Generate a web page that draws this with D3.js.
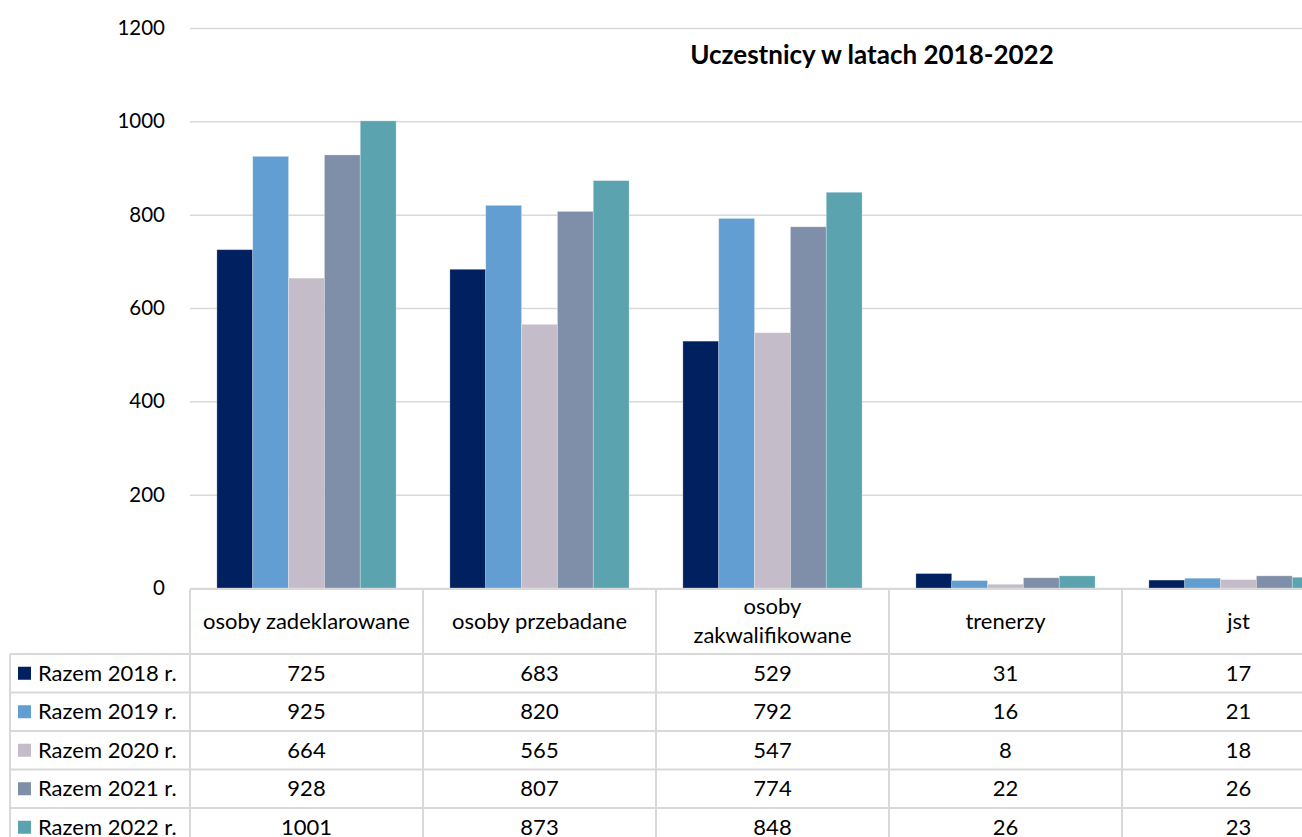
<!DOCTYPE html>
<html>
<head>
<meta charset="utf-8">
<script src="https://cdn.jsdelivr.net/npm/d3@7"></script>
<style>
html,body{margin:0;padding:0;background:#fff;overflow:hidden;}
svg{display:block;font-family:Lato, "Open Sans", sans-serif;}
</style>
</head>
<body>
<svg id="chart" width="1302" height="837"></svg>
<script>
const categories = ["osoby zadeklarowane", "osoby przebadane", "osoby zakwalifikowane", "trenerzy", "jst"];
const categoryLines = [["osoby zadeklarowane"], ["osoby przebadane"], ["osoby", "zakwalifikowane"], ["trenerzy"], ["jst"]];
const seriesNames = ["Razem 2018 r.", "Razem 2019 r.", "Razem 2020 r.", "Razem 2021 r.", "Razem 2022 r."];
const values2018 = [725, 683, 529, 31, 17];
const values2019 = [925, 820, 792, 16, 21];
const values2020 = [664, 565, 547, 8, 18];
const values2021 = [928, 807, 774, 22, 26];
const values2022 = [1001, 873, 848, 26, 23];
const seriesValues = [values2018, values2019, values2020, values2021, values2022];
const colors = ["#01205F", "#629ED2", "#C4BCC8", "#7F8FA9", "#5BA3AE"];
const yTicks = [0, 200, 400, 600, 800, 1000, 1200];
const title = "Uczestnicy w latach 2018-2022";

const svg = d3.select("#chart");
const plotLeft = 190, colW = 233;
const y0 = 588, yTop = 28;
const W = 1302;
const tableFont = 22;

const x0 = d3.scaleBand().domain(categories).range([plotLeft, plotLeft + colW * categories.length]).paddingInner(0).paddingOuter(0);
const x1 = d3.scaleBand().domain(seriesNames).range([0, x0.bandwidth()]).paddingInner(0).paddingOuter(0.75);
const y = d3.scaleLinear().domain([0, 1200]).range([y0, yTop]);

const gridColor = "#d9d9d9";

// gridlines
const yAxis = d3.axisLeft(y).tickValues(yTicks).tickSize(-(W - plotLeft)).tickFormat(d3.format("d"));
const gy = svg.append("g").attr("transform", `translate(${plotLeft},0)`).call(yAxis);
gy.select(".domain").remove();
gy.selectAll(".tick line").attr("stroke", gridColor).attr("stroke-width", 1.5);
gy.selectAll(".tick text").attr("x", -25).attr("font-size", 20.5).attr("fill", "#000").attr("font-family", "Lato, 'Open Sans', sans-serif");

// bars
const data = [];
seriesNames.forEach((s, si) => categories.forEach((c, ci) => data.push({s, c, v: seriesValues[si][ci], si})));
svg.append("g").selectAll("rect").data(data).join("rect")
  .attr("x", d => x0(d.c) + x1(d.s))
  .attr("width", x1.bandwidth())
  .attr("y", d => y(d.v))
  .attr("height", d => y0 - y(d.v))
  .attr("fill", d => colors[d.si])
  .attr("stroke", "#ffffff").attr("stroke-opacity", 0.35).attr("stroke-width", 0.8);

// title
svg.append("text").attr("x", 872).attr("y", 64).attr("text-anchor", "middle")
  .attr("font-size", 26).attr("font-weight", "bold").attr("fill", "#000").text(title);

// data table
const headerBottom = 654, rowH = 38.5;
const tableLeft = 10;
const t = svg.append("g");
t.append("line").attr("x1", plotLeft).attr("x2", W).attr("y1", y0 + 1).attr("y2", y0 + 1).attr("stroke", gridColor).attr("stroke-width", 2);
const colEdges = categories.map(c => x0(c)).concat([x0.range()[1]]);
colEdges.forEach(x => {
  t.append("line").attr("x1", x).attr("x2", x).attr("y1", y0 + 1).attr("y2", 837 + 20).attr("stroke", gridColor).attr("stroke-width", 2);
});
t.append("line").attr("x1", tableLeft).attr("x2", tableLeft).attr("y1", headerBottom).attr("y2", 837 + 20).attr("stroke", gridColor).attr("stroke-width", 2);
d3.range(seriesNames.length + 1).forEach(i => {
  const yy = headerBottom + i * rowH;
  t.append("line").attr("x1", tableLeft).attr("x2", W).attr("y1", yy).attr("y2", yy).attr("stroke", gridColor).attr("stroke-width", 2);
});
categories.forEach((c, ci) => {
  const lines = categoryLines[ci];
  const cx = x0(c) + x0.bandwidth() / 2;
  const cy = (y0 + headerBottom) / 2;
  const lh = 29;
  lines.forEach((ln, li) => {
    t.append("text").attr("x", cx).attr("y", cy + (li - (lines.length - 1) / 2) * lh)
      .attr("dy", "0.35em").attr("text-anchor", "middle").attr("font-size", tableFont).attr("fill", "#000").text(ln);
  });
});
seriesNames.forEach((s, si) => {
  const cy = headerBottom + si * rowH + rowH / 2;
  t.append("rect").attr("x", 18).attr("y", cy - 6.5).attr("width", 13).attr("height", 13).attr("fill", colors[si]);
  t.append("text").attr("x", 38).attr("y", cy).attr("dy", "0.35em").attr("font-size", tableFont).attr("fill", "#000").text(s);
  categories.forEach((c, ci) => {
    t.append("text").attr("x", x0(c) + x0.bandwidth() / 2).attr("y", cy).attr("dy", "0.35em")
      .attr("text-anchor", "middle").attr("font-size", tableFont).attr("fill", "#000").text(seriesValues[si][ci]);
  });
});
</script>
</body>
</html>
